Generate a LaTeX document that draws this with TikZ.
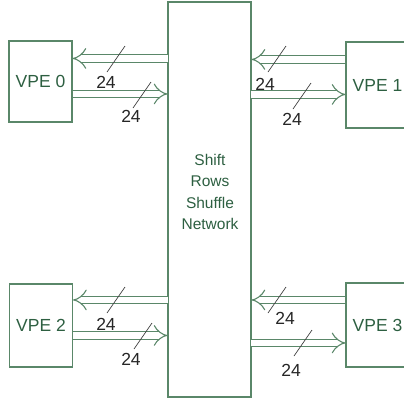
\documentclass[tikz,border=0pt]{standalone}
\usepackage{fontspec}
\setmainfont{Liberation Sans}
\usetikzlibrary{arrows.meta,calc}
\definecolor{LineGreen}{RGB}{90,135,105}
\definecolor{TextGreen}{RGB}{45,95,65}
\tikzset{
  pe/.style={draw=LineGreen,line width=1.1pt,minimum width=63pt,inner sep=0pt,
    text=TextGreen,font=\fontsize{17.5}{20}\selectfont},
  netbox/.style={draw=LineGreen,line width=1.1pt,minimum width=83pt,
    minimum height=395pt,inner sep=0pt},
  bus/.style={draw=LineGreen,line width=1.1pt,double=white,double distance=6.3pt,
    -{Implies}},
  tick/.style={draw=black!75,line width=0.7pt},
  bits/.style={font=\fontsize{17.5}{20}\selectfont,text=black!85,inner sep=0pt},
}

\begin{document}
\begin{tikzpicture}[x=1pt,y=-1pt]
  \useasboundingbox (0,0) rectangle (404,400);

  \node[netbox] (net) at (209.5,199.5) {};
  \node[align=center,text=TextGreen,font=\fontsize{15.5}{21.5}\selectfont]
    (nettext) at (210,192) {Shift\\Rows\\Shuffle\\Network};

  \node[pe,minimum height=81pt] (vpe0) at (40.5,81.5) {VPE 0};
  \node[pe,minimum height=86pt] (vpe1) at (377.5,85) {VPE 1};
  \node[pe,minimum height=83pt] (vpe2) at (41,325.5) {VPE 2};
  \node[pe,minimum height=84pt] (vpe3) at (377.5,325) {VPE 3};

  % bus rows
  \coordinate (b0a) at ([yshift=-18pt]vpe0.north east);
  \coordinate (b0b) at ([yshift=-53.5pt]vpe0.north east);
  \coordinate (b1a) at ([yshift=-18pt]vpe1.north west);
  \coordinate (b1b) at ([yshift=-53pt]vpe1.north west);
  \coordinate (b2a) at ([yshift=-16.5pt]vpe2.north east);
  \coordinate (b2b) at ([yshift=-52pt]vpe2.north east);
  \coordinate (b3a) at ([yshift=-17.5pt]vpe3.north west);
  \coordinate (b3b) at ([yshift=-60.5pt]vpe3.north west);

  \draw[bus,shorten <=-0.8pt] (net.west |- b0a) -- (b0a);
  \draw[bus] (b0b) -- (net.west |- b0b);
  \draw[bus] (b1a) -- (net.east |- b1a);
  \draw[bus,shorten <=-0.8pt] (net.east |- b1b) -- (b1b);
  \draw[bus,shorten <=-0.8pt] (net.west |- b2a) -- (b2a);
  \draw[bus] (b2b) -- (net.west |- b2b);
  \draw[bus] (b3a) -- (net.east |- b3a);
  \draw[bus,shorten <=-0.8pt] (net.east |- b3b) -- (b3b);

  % width marks
  \foreach \n/\x/\y/\lx/\ly in {a/116/59/106/82, b/142/95/131/116,
      c/277/59/265/84, d/302/96/292/119, e/116/300/106/324,
      f/143/336/131/359, g/277/300/285/318, h/303/343/291/370}{
    \draw[tick] (\x-9,\y+13) -- (\x+9,\y-13);
    \node[bits] (w\n) at (\lx,\ly) {24};
  }
\end{tikzpicture}
\end{document}
